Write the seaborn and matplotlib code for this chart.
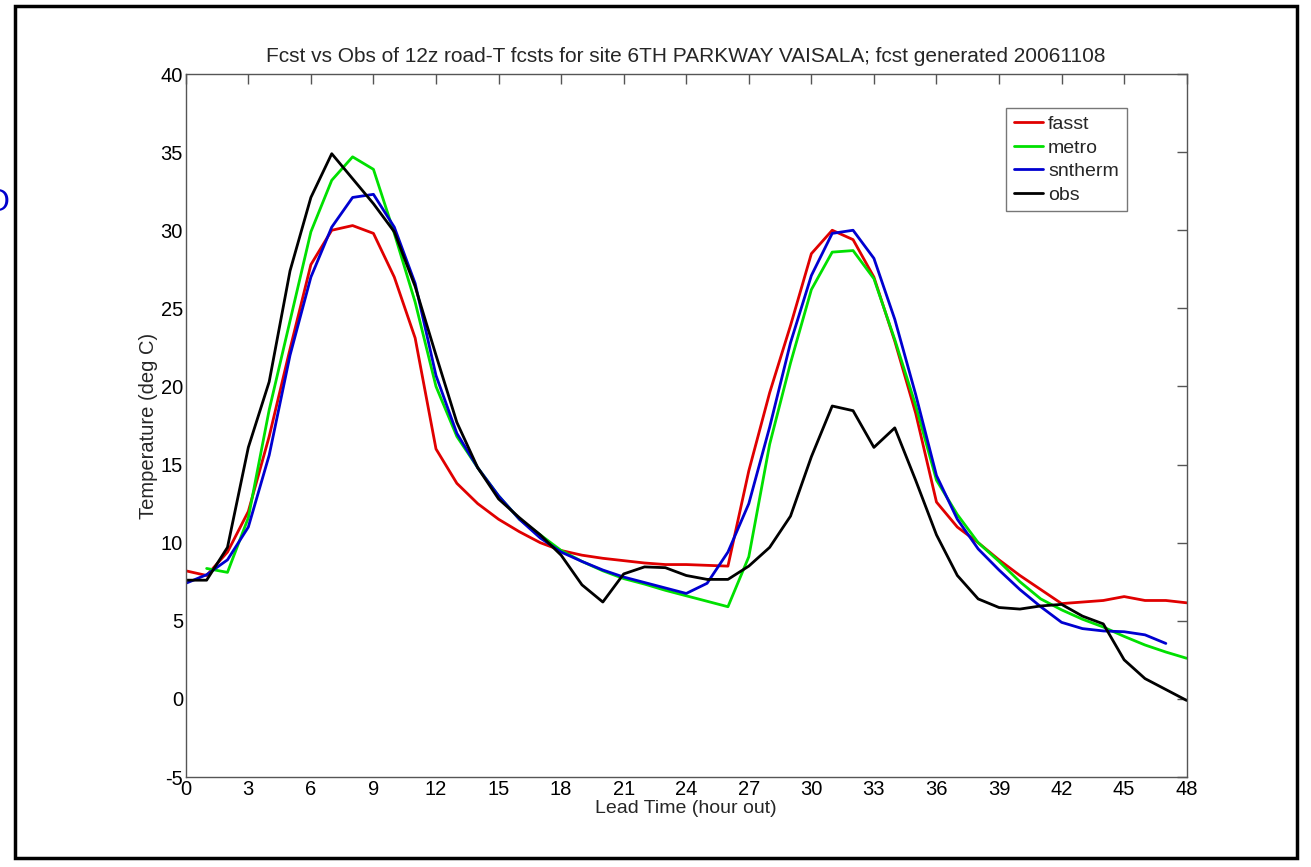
import matplotlib
matplotlib.use('Agg')
import matplotlib.pyplot as plt
import numpy as np
import pandas as pd
import seaborn as sns

# lead hours
hours_full = list(range(0, 49))
hours_metro = list(range(1, 49))
hours_sntherm = list(range(0, 48))

fasst = [8.2, 7.9, 9.4, 12.0, 16.8, 22.4, 27.8, 30.0, 30.3, 29.8, 27.0, 23.1,
         16.0, 13.8, 12.5, 11.5, 10.7, 10.0, 9.5, 9.2, 9.0, 8.85, 8.7, 8.6,
         8.6, 8.55, 8.5, 14.6, 19.6, 23.9, 28.5, 30.0, 29.4, 27.0, 22.9, 18.3,
         12.6, 11.0, 10.0, 8.9, 7.9, 7.0, 6.1, 6.2, 6.3, 6.55, 6.3, 6.3, 6.15]

metro = [8.35, 8.1, 11.6, 18.5, 24.2, 29.9, 33.2, 34.7, 33.9, 29.8, 25.4,
         20.0, 16.8, 14.8, 13.0, 11.5, 10.5, 9.5, 8.8, 8.2, 7.7, 7.35, 6.95,
         6.6, 6.25, 5.9, 9.1, 16.3, 21.5, 26.2, 28.6, 28.7, 26.9, 23.0, 18.8,
         14.0, 11.8, 10.0, 8.8, 7.5, 6.4, 5.7, 5.1, 4.6, 4.0, 3.45, 3.0, 2.6]

sntherm = [7.4, 7.95, 8.9, 11.0, 15.6, 22.0, 27.0, 30.2, 32.1, 32.3, 30.2,
           26.6, 20.7, 17.0, 14.8, 13.0, 11.5, 10.3, 9.4, 8.8, 8.25, 7.8,
           7.45, 7.1, 6.75, 7.4, 9.4, 12.5, 17.4, 22.8, 27.1, 29.8, 30.0,
           28.2, 24.3, 19.5, 14.3, 11.5, 9.6, 8.25, 7.0, 5.9, 4.9, 4.5, 4.35,
           4.3, 4.1, 3.55]

obs = [7.6, 7.6, 9.7, 16.1, 20.3, 27.4, 32.1, 34.9, 33.3, 31.7, 29.9, 26.4,
       22.0, 17.7, 14.8, 12.8, 11.6, 10.5, 9.2, 7.3, 6.2, 8.0, 8.45, 8.4,
       7.9, 7.65, 7.65, 8.5, 9.7, 11.7, 15.5, 18.75, 18.45, 16.1, 17.35,
       14.0, 10.5, 7.9, 6.4, 5.85, 5.75, 5.95, 6.05, 5.3, 4.8, 2.5, 1.3,
       0.6, -0.1]

series_names = ['fasst', 'metro', 'sntherm', 'obs']
series_hours = [hours_full, hours_metro, hours_sntherm, hours_full]
series_values = [fasst, metro, sntherm, obs]
series_colors = ['#e00000', '#00e000', '#0000d0', '#000000']

frames = []
for name, hrs, vals in zip(series_names, series_hours, series_values):
    frames.append(pd.DataFrame({'hour': hrs, 'temp': vals, 'model': name}))
df = pd.concat(frames, ignore_index=True)

sns.set_style('white')
plt.rcParams['font.family'] = ['Liberation Sans', 'DejaVu Sans']
plt.rcParams['axes.unicode_minus'] = False

fig = plt.figure(figsize=(13.11, 8.67), dpi=100)
ax = fig.add_axes([0.1417, 0.1038, 0.7635, 0.8108])

sns.lineplot(data=df, x='hour', y='temp', hue='model', hue_order=series_names,
             palette=series_colors, linewidth=2.0, ax=ax, estimator=None,
             sort=False)

ax.set_xlim(0, 48)
ax.set_ylim(-5, 40)
ax.set_xticks(range(0, 49, 3))
ax.set_yticks(range(-5, 41, 5))
ax.tick_params(direction='in', length=7, width=1, colors='#555555',
               labelcolor='black', labelsize=14.5, top=True, right=True,
               pad=2)
for s in ax.spines.values():
    s.set_color('#555555')
    s.set_linewidth(1)

ax.set_xlabel('Lead Time (hour out)', fontsize=14, labelpad=1)
ax.set_ylabel('Temperature (deg C)', fontsize=14.5, labelpad=2)
ax.set_title('Fcst vs Obs of 12z road-T fcsts for site 6TH PARKWAY VAISALA; fcst generated 20061108',
             fontsize=15, pad=9)

leg = ax.legend(loc='upper right', bbox_to_anchor=(0.940, 0.952),
                fontsize=14, frameon=True, fancybox=False, handlelength=1.5,
                handletextpad=0.25, borderpad=0.4, labelspacing=0.3,
                borderaxespad=0)
leg.get_frame().set_edgecolor('#555555')
leg.get_frame().set_linewidth(1)
for line in leg.get_lines():
    line.set_linewidth(2.0)

# outer border and clipped text at the left edge
fig.patches.append(plt.Rectangle((15 / 1311, 9 / 867), 1282 / 1311, 852 / 867,
                                 transform=fig.transFigure, fill=False,
                                 edgecolor='black', linewidth=2.5))
fig.text(-0.012, 0.766, 'O', color='#0000cc', fontsize=23, va='center')

fig.savefig('out.png', dpi=100)
